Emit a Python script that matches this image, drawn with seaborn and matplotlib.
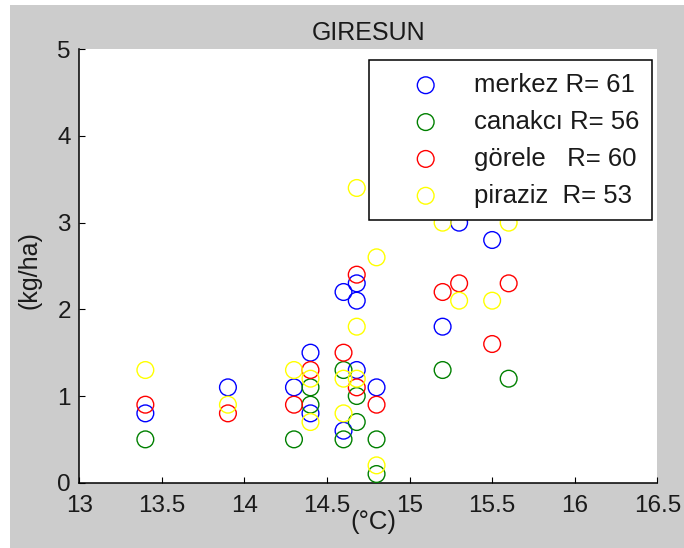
import matplotlib
matplotlib.use("Agg")
import matplotlib.pyplot as plt
from matplotlib.patches import Rectangle
import seaborn as sns
import pandas as pd

# values
merkez_x = [13.4, 13.9, 14.3, 14.4, 14.4, 14.6, 14.6, 14.68, 14.68, 14.68, 14.8, 15.2, 15.3, 15.5]
merkez_y = [0.8, 1.1, 1.1, 1.5, 0.8, 2.2, 0.6, 2.3, 2.1, 1.3, 1.1, 1.8, 3.0, 2.8]

canakci_x = [13.4, 14.3, 14.4, 14.4, 14.6, 14.6, 14.68, 14.68, 14.8, 14.8, 15.2, 15.6]
canakci_y = [0.5, 0.5, 1.1, 0.9, 1.3, 0.5, 1.0, 0.7, 0.5, 0.1, 1.3, 1.2]

gorele_x = [13.4, 13.9, 14.3, 14.4, 14.6, 14.68, 14.68, 14.8, 15.2, 15.3, 15.5, 15.6]
gorele_y = [0.9, 0.8, 0.9, 1.3, 1.5, 2.4, 1.1, 0.9, 2.2, 2.3, 1.6, 2.3]

piraziz_x = [13.4, 13.9, 14.3, 14.4, 14.4, 14.6, 14.6, 14.68, 14.68, 14.68, 14.8, 14.8, 15.2, 15.3, 15.5, 15.6]
piraziz_y = [1.3, 0.9, 1.3, 1.2, 0.7, 1.2, 0.8, 3.4, 1.8, 1.2, 2.6, 0.2, 3.0, 2.1, 2.1, 3.0]

labels = ["merkez R= 61", "canakcı R= 56", "görele   R= 60", "piraziz  R= 53"]
colors = ["#0000ff", "#008000", "#ff0000", "#ffff00"]
xticks = [13, 13.5, 14, 14.5, 15, 15.5, 16, 16.5]
xtick_labels = ["13", "13.5", "14", "14.5", "15", "15.5", "16", "16.5"]
yticks = [0, 1, 2, 3, 4, 5]

series = [(merkez_x, merkez_y), (canakci_x, canakci_y),
          (gorele_x, gorele_y), (piraziz_x, piraziz_y)]

sns.set_style("ticks", {"xtick.direction": "in", "ytick.direction": "in"})
plt.rcParams["font.family"] = ["Liberation Sans", "DejaVu Sans"]

fig = plt.figure(figsize=(6.84, 5.48), dpi=100)
fig.patch.set_facecolor("white")
# gray window background (thin white strip left/top as in the screenshot)
fig.add_artist(Rectangle((10 / 684, 0), 1, 543 / 548, transform=fig.transFigure,
                         facecolor="#cccccc", edgecolor="none", zorder=-10))

ax = fig.add_axes([79.3 / 684, (548 - 482.7) / 548, 578 / 684, 433.4 / 548])
ax.set_facecolor("white")

for (xs, ys), lab, col in zip(series, labels, colors):
    df = pd.DataFrame({"temp": xs, "yield": ys})
    sns.scatterplot(data=df, x="temp", y="yield", ax=ax, s=145,
                    marker="o", facecolor="none", edgecolor=col,
                    linewidth=1.0, label=lab, zorder=3)

ax.set_xlim(13, 16.5)
ax.set_ylim(0, 5)
ax.set_xticks(xticks)
ax.set_xticklabels(xtick_labels)
ax.set_yticks(yticks)
ax.tick_params(axis="both", labelsize=17.5, length=4.5, width=0.8, color="black",
               labelcolor="#1a1a1a")
ax.tick_params(axis="x", pad=8.5)
ax.tick_params(axis="y", pad=6)

for side in ["top", "right"]:
    ax.spines[side].set_visible(False)
for side in ["left", "bottom"]:
    ax.spines[side].set_color("black")
    ax.spines[side].set_linewidth(1.1)

ax.set_title("GIRESUN", fontsize=18, pad=6.5, color="#1a1a1a")
ax.set_xlabel("(°C)", fontsize=18.5, color="#1a1a1a")
ax.set_ylabel("(kg/ha)", fontsize=18, color="#1a1a1a")
ax.xaxis.set_label_coords(0.508, -0.064)
ax.yaxis.set_label_coords(-0.066, 0.491)

leg = ax.legend(loc="upper right", bbox_to_anchor=(0.991, 0.975), borderaxespad=0,
                fontsize=18.5, frameon=True, fancybox=False, framealpha=1,
                edgecolor="black", handlelength=3.45, handletextpad=0.15,
                borderpad=0.5, labelspacing=0.5, scatterpoints=1)
leg.get_frame().set_linewidth(1.1)
leg.set_zorder(10)
for t in leg.get_texts():
    t.set_color("#1a1a1a")

fig.savefig("out.png", dpi=100)
